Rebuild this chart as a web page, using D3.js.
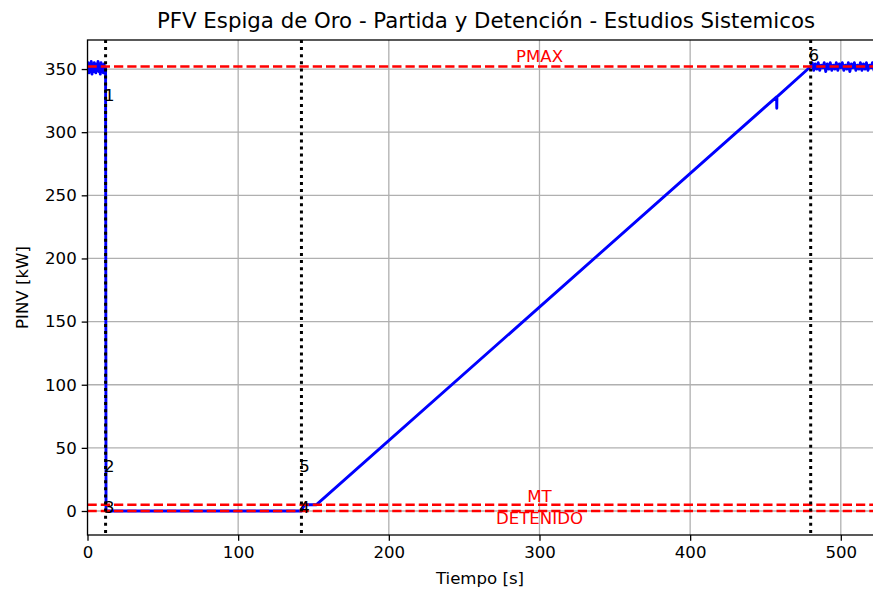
<!DOCTYPE html>
<html>
<head>
<meta charset="utf-8">
<script src="https://cdn.jsdelivr.net/npm/d3@7"></script>
<style>
  body { margin: 0; background: #fff; }
  text { font-family: "DejaVu Sans", sans-serif; }
</style>
</head>
<body>
<div id="chart"></div>
<script>
// ---- data ----
var xTicks = [0, 100, 200, 300, 400, 500];
var yTicks = [0, 50, 100, 150, 200, 250, 300, 350];

// noisy pre-event segment, 0..12 s
var tHead = [0, 0.5, 1, 1.5, 2, 2.5, 3, 3.5, 4, 4.5, 5, 5.5, 6, 6.5, 7, 7.5, 8, 8.5, 9, 9.5, 10, 10.5, 11, 11.5, 12];
var pHead = [349, 355, 347, 354, 350, 356, 346, 353, 348, 355, 351, 347, 354, 349, 356, 348, 352, 346, 355, 350, 353, 347, 354, 349, 351];

// trip, zero output, ramp back up (with small dip near 458 s)
var tMain = [12.3, 142, 144, 152, 457.4, 457.5, 457.6, 480];
var pMain = [0, 0, 5, 5, 328, 319, 328, 352];

// noisy post-recovery segment
var tTail = [481, 482, 483, 484, 485, 486, 487, 488, 489, 490, 491, 492, 493, 494, 495, 496, 497, 498, 499, 500,
             501, 502, 503, 504, 505, 506, 507, 508, 509, 510, 511, 512, 513, 514, 515, 516, 517, 518, 519, 520,
             521, 522, 523, 524, 525, 526, 527, 528, 529, 530];
var pTail = [355, 349, 354, 350, 355, 349, 353, 351, 355, 348, 354, 350, 355, 349, 353, 350, 355, 349, 354, 351,
             355, 349, 353, 350, 355, 348, 354, 351, 355, 349, 353, 350, 355, 349, 354, 350, 355, 349, 353, 351,
             355, 349, 354, 350, 355, 349, 353, 350, 354, 352];

var eventTimes = [12, 142, 480];
var refLevels = [352, 5, 0];
var refNames = ["PMAX", "MT", "DETENIDO"];
var refNameT = [300, 300, 300];
var refNameP = [355.5, 7.4, -10.5];
var pointNames = ["1", "2", "3", "4", "5", "6"];
var pointT = [11, 11, 11, 140.5, 140.5, 478.5];
var pointP = [325, 31, -1.5, -1.5, 31, 356];

// ---- layout ----
var W = 873, H = 591;
var mLeft = 87.5, mRight = 884.5, mTop = 40, mBottom = 535;

var svg = d3.select("#chart").append("svg")
    .attr("width", W).attr("height", H);
svg.append("rect").attr("width", W).attr("height", H).attr("fill", "#fff");

var x = d3.scaleLinear().domain([0, 529]).range([mLeft, mRight]);
var y = d3.scaleLinear().domain([-19, 373]).range([mBottom, mTop]);

svg.append("clipPath").attr("id", "plotclip")
  .append("rect").attr("x", mLeft).attr("y", mTop)
  .attr("width", mRight - mLeft).attr("height", mBottom - mTop);

// grid
var grid = svg.append("g").attr("clip-path", "url(#plotclip)");
grid.selectAll("line.gx").data(xTicks).enter().append("line")
    .attr("x1", function(d){ return x(d); }).attr("x2", function(d){ return x(d); })
    .attr("y1", mTop).attr("y2", mBottom)
    .attr("stroke", "#b0b0b0").attr("stroke-width", 1.3);
grid.selectAll("line.gy").data(yTicks).enter().append("line")
    .attr("y1", function(d){ return y(d); }).attr("y2", function(d){ return y(d); })
    .attr("x1", mLeft).attr("x2", mRight)
    .attr("stroke", "#b0b0b0").attr("stroke-width", 1.3);

var plot = svg.append("g").attr("clip-path", "url(#plotclip)");

// series
var series = [];
tHead.forEach(function(t, i){ series.push([t, pHead[i]]); });
tMain.forEach(function(t, i){ series.push([t, pMain[i]]); });
tTail.forEach(function(t, i){ series.push([t, pTail[i]]); });

var line = d3.line().x(function(d){ return x(d[0]); }).y(function(d){ return y(d[1]); });
plot.append("path").datum(series)
    .attr("d", line)
    .attr("fill", "none").attr("stroke", "#0000ff")
    .attr("stroke-width", 2.9).attr("stroke-linejoin", "round");

// reference levels
plot.selectAll("line.ref").data(refLevels).enter().append("line")
    .attr("x1", mLeft).attr("x2", mRight)
    .attr("y1", function(d){ return y(d); }).attr("y2", function(d){ return y(d); })
    .attr("stroke", "#ff0000").attr("stroke-width", 2.5)
    .attr("stroke-dasharray", "9.25,4");

// event markers
plot.selectAll("line.ev").data(eventTimes).enter().append("line")
    .attr("x1", function(d){ return x(d); }).attr("x2", function(d){ return x(d); })
    .attr("y1", mTop).attr("y2", mBottom)
    .attr("stroke", "#000").attr("stroke-width", 3)
    .attr("stroke-dasharray", "3,4.1");

// texts
svg.selectAll("text.ref").data(refNames).enter().append("text")
    .attr("x", function(d, i){ return x(refNameT[i]); })
    .attr("y", function(d, i){ return y(refNameP[i]); })
    .attr("text-anchor", "middle").attr("font-size", 16.6)
    .attr("fill", "#ff0000").text(function(d){ return d; });

svg.selectAll("text.pt").data(pointNames).enter().append("text")
    .attr("x", function(d, i){ return x(pointT[i]); })
    .attr("y", function(d, i){ return y(pointP[i]); })
    .attr("font-size", 16.6).attr("fill", "#000")
    .text(function(d){ return d; });

// axes
var xAxis = d3.axisBottom(x).tickValues(xTicks).tickSize(5.8).tickPadding(5).tickFormat(d3.format("d"));
var yAxis = d3.axisLeft(y).tickValues(yTicks).tickSize(5.8).tickPadding(5).tickFormat(d3.format("d"));

var gx = svg.append("g").attr("transform", "translate(0," + mBottom + ")").call(xAxis);
var gy = svg.append("g").attr("transform", "translate(" + mLeft + ",0)").call(yAxis);
[gx, gy].forEach(function(g){
    g.select(".domain").remove();
    g.selectAll(".tick line").attr("stroke", "#000").attr("stroke-width", 1.3);
    g.selectAll(".tick text").attr("font-size", 16.6).attr("fill", "#000")
      .style("font-family", "DejaVu Sans, sans-serif");
});

// spines
svg.append("rect").attr("x", mLeft).attr("y", mTop)
    .attr("width", mRight - mLeft).attr("height", mBottom - mTop)
    .attr("fill", "none").attr("stroke", "#000").attr("stroke-width", 1.3);

// labels
svg.append("text").attr("x", 486).attr("y", 28)
    .attr("text-anchor", "middle").attr("font-size", 21.3).attr("fill", "#000")
    .text("PFV Espiga de Oro - Partida y Detención - Estudios Sistemicos");
svg.append("text").attr("x", 480).attr("y", 584)
    .attr("text-anchor", "middle").attr("font-size", 16.6).attr("fill", "#000")
    .text("Tiempo [s]");
svg.append("text").attr("transform", "translate(28," + ((mTop + mBottom) / 2) + ") rotate(-90)")
    .attr("text-anchor", "middle").attr("font-size", 16.6).attr("fill", "#000")
    .text("PINV [kW]");
</script>
</body>
</html>
